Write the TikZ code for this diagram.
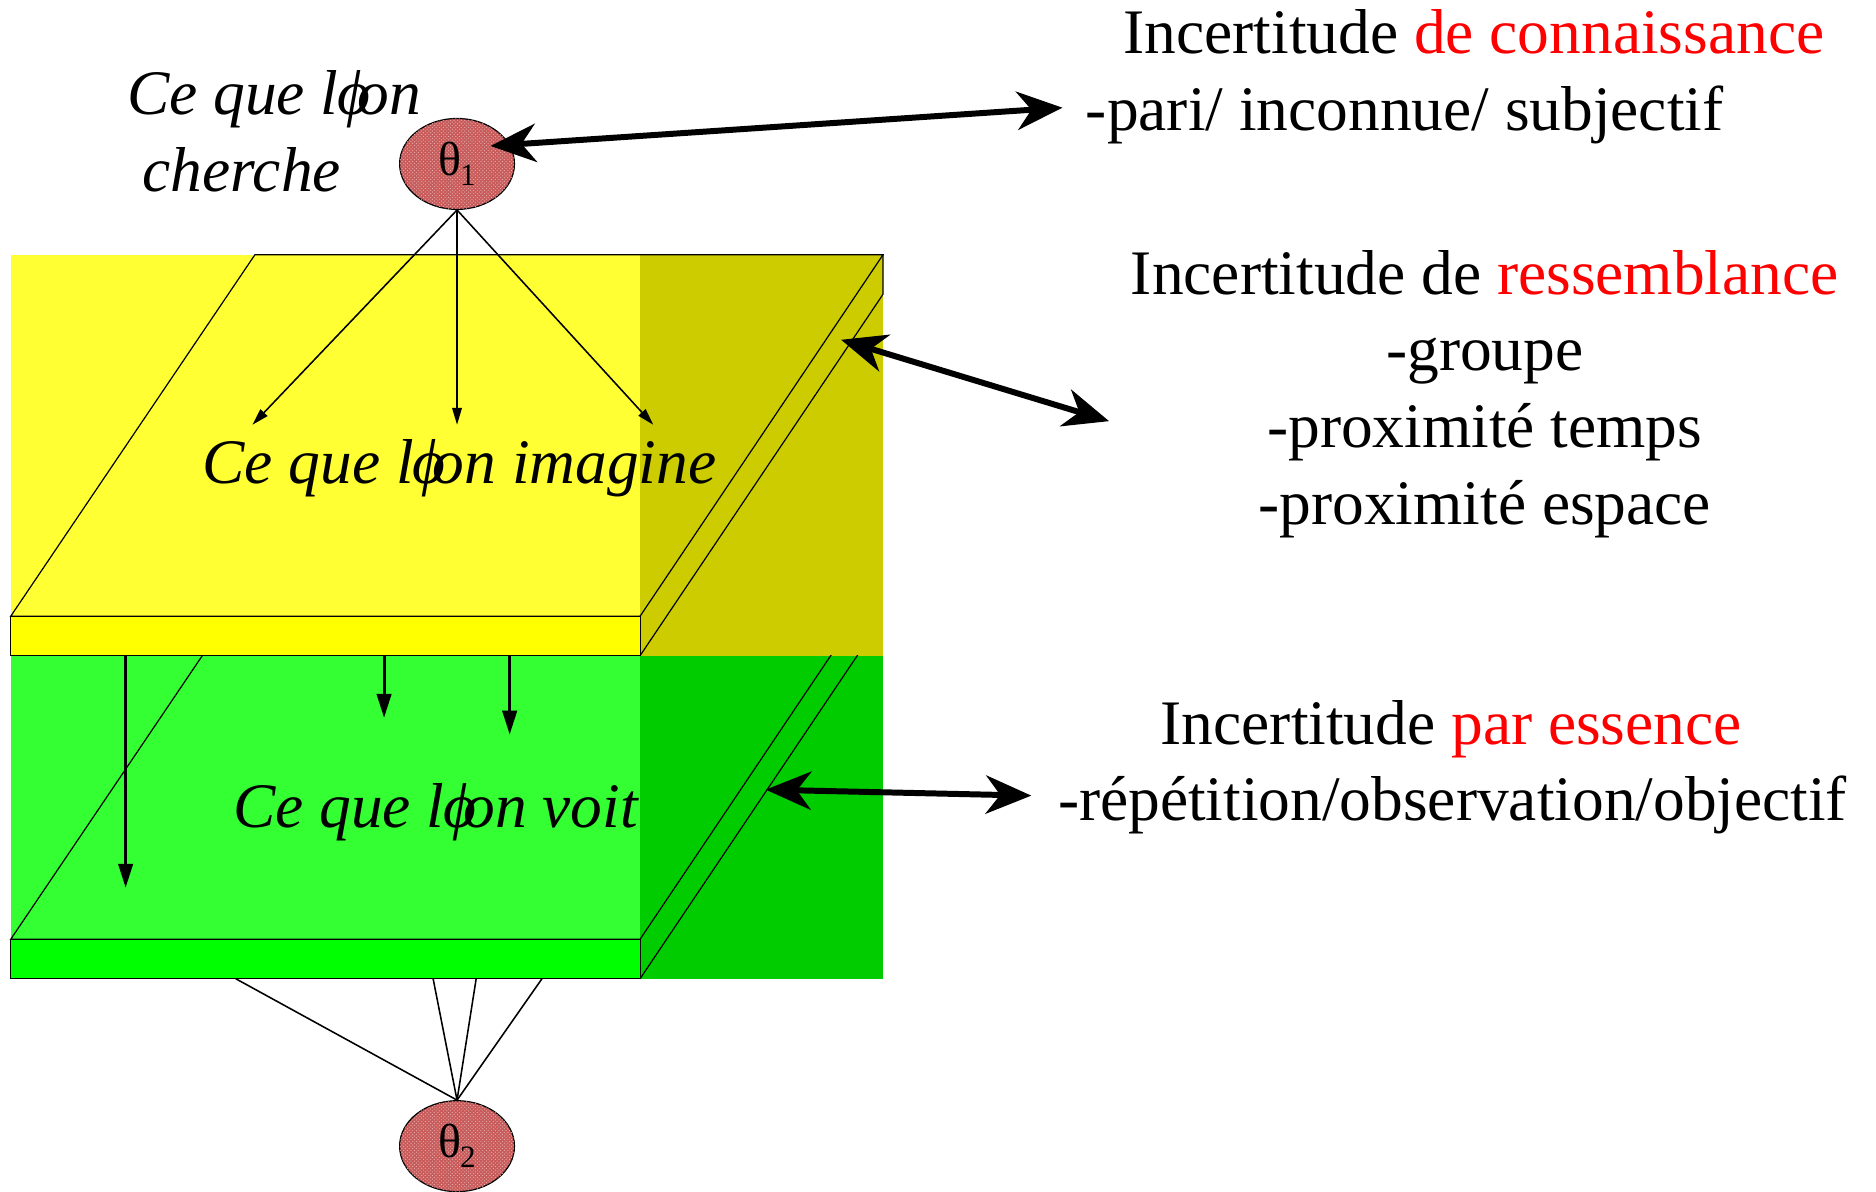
\documentclass[tikz,border=0pt]{standalone}
\usepackage{fontspec}
\setmainfont{Liberation Serif}
\usetikzlibrary{arrows.meta,shapes.geometric,patterns}

\definecolor{jaune}{HTML}{FFFF33}
\definecolor{jaunefonce}{HTML}{CCCC00}
\definecolor{jaunebord}{HTML}{FFFF00}
\definecolor{vert}{HTML}{33FF33}
\definecolor{vertfonce}{HTML}{00CC00}
\definecolor{vertbord}{HTML}{00FF00}
\definecolor{rose}{HTML}{C85A5A}

% l'on, as it comes out of the slide
\newcommand{\lon}{l\kern-0.02em ϕ\kern-0.2em on}
% theta with its index
\newcommand{\param}[1]{θ\kern-0.03em\raisebox{-0.45ex}{\fontsize{26}{26}\selectfont #1}}

\begin{document}
\begin{tikzpicture}[x=1pt,y=-1pt,
    bord/.style={draw=black,line width=1pt},
    theta/.style={ellipse,draw,line width=1pt,fill=rose,minimum width=96pt,minimum height=76pt,
      inner sep=0pt,font=\fontsize{40}{40}\selectfont,
      postaction={pattern=crosshatch dots,pattern color=white!55!rose}},
    txt/.style={inner sep=0pt,anchor=base,font=\fontsize{53}{64}\selectfont},
    itxt/.style={txt,font=\fontsize{53}{64}\selectfont\itshape},
    fine/.style={line width=1.3pt,-{Triangle[length=14pt,width=8pt]}},
    chute/.style={line width=2.5pt,-{Triangle[length=20pt,width=12pt]}},
    lien/.style={line width=1.3pt},
    double/.style={line width=5pt,{Stealth[length=38pt,width=32pt,inset=12pt]}-{Stealth[length=38pt,width=32pt,inset=12pt]}}]
  \useasboundingbox (0,0) rectangle (1568,996);

  % yellow slab
  \fill[jaune] (9,213) rectangle (535,548);
  \fill[jaunefonce] (535,213) rectangle (738,548);
  \draw[bord] (213,213) -- (738,213) -- (535,515) -- (9,515) -- cycle;
  \draw[bord,fill=jaunebord] (9,515) rectangle (535,548);
  \draw[bord] (738,213) -- (738,246) -- (535,548);

  % green slab, partly hidden behind the yellow one
  \fill[vert] (9,548) rectangle (535,818);
  \fill[vertfonce] (535,548) rectangle (738,818);
  \begin{scope}
    \clip (0,548) rectangle (738,818);
    \draw[bord] (213,483) -- (738,483) -- (535,785) -- (9,785) -- cycle;
    \draw[bord] (738,483) -- (738,516) -- (535,818);
  \end{scope}
  \draw[bord,fill=vertbord] (9,785) rectangle (535,818);

  % parameters
  \node[theta] (th1) at (382,137) {\param{1}};
  \node[theta] (th2) at (382,958) {\param{2}};

  \coordinate (i1) at (211,355);
  \coordinate (i2) at (382,355);
  \coordinate (i3) at (546,355);
  \draw[fine] (th1.south) -- (i1);
  \draw[fine] (th1.south) -- (i2);
  \draw[fine] (th1.south) -- (i3);

  \coordinate (h1) at (105,548);
  \coordinate (v1) at (105,742);
  \coordinate (h2) at (321,548);
  \coordinate (v2) at (321,600);
  \coordinate (h3) at (426,548);
  \coordinate (v3) at (426,614);
  \draw[chute] (h1) -- (v1);
  \draw[chute] (h2) -- (v2);
  \draw[chute] (h3) -- (v3);

  \foreach \x [count=\i] in {197,362,398,453}
    \coordinate (b\i) at (\x,818);
  \foreach \i in {1,...,4}
    \draw[lien] (b\i) -- (th2.north);

  % texts on the blocks
  \node[itxt] (cherche1) at (229,96) {Ce que \lon};
  \node[itxt] (cherche2) at (202,160) {cherche};
  \node[itxt] (imagine) at (384,404) {Ce que \lon\ imagine};
  \node[itxt] (voit) at (364,692) {Ce que \lon\ voit};

  % the three kinds of uncertainty
  \node[txt] (conn) at (1232,45) {Incertitude \textcolor{red}{de connaissance}};
  \node[txt] (conn1) at (1174,109) {-pari/ inconnue/ subjectif};
  \node[txt] (ress) at (1241,246) {Incertitude de \textcolor{red}{ressemblance}};
  \node[txt] (ress1) at (1241,310) {-groupe};
  \node[txt] (ress2) at (1241,374) {-proximité temps};
  \node[txt] (ress3) at (1241,438) {-proximité espace};
  \node[txt] (ess) at (1213,622) {Incertitude \textcolor{red}{par essence}};
  \node[txt] (ess1) at (1214,686) {-répétition/observation/objectif};

  \coordinate (a1) at (410,122);
  \coordinate (e1) at (888,90);
  \coordinate (a2) at (703,284);
  \coordinate (e2) at (927,352);
  \coordinate (a3) at (640,660);
  \coordinate (e3) at (862,665);
  \draw[double] (a1) -- (e1);
  \draw[double] (a2) -- (e2);
  \draw[double] (a3) -- (e3);
\end{tikzpicture}
\end{document}
